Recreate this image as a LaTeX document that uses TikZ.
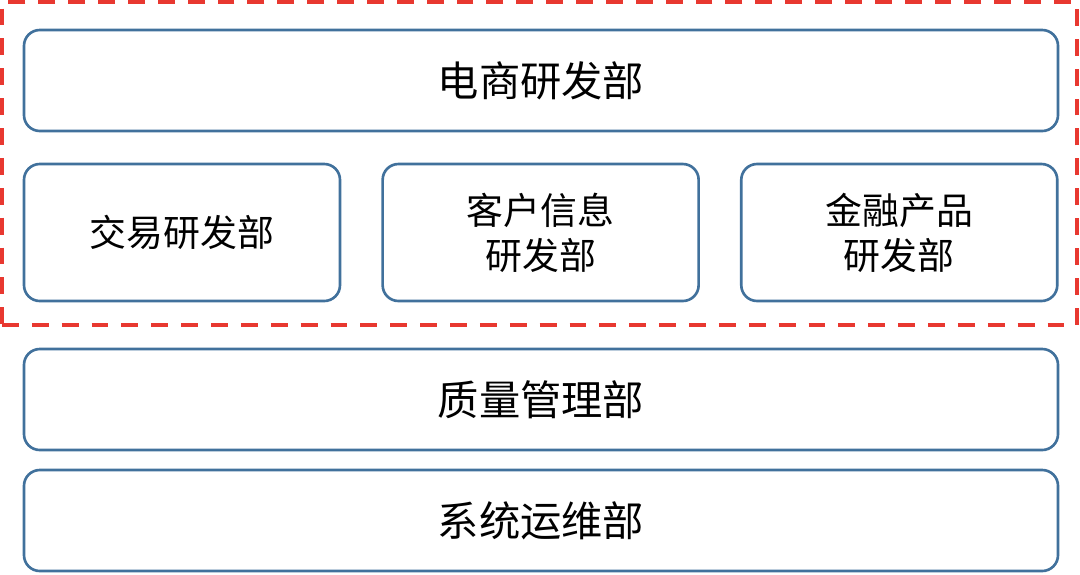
\documentclass[tikz,border=0pt]{standalone}
\usepackage{fontspec}
\setmainfont{Noto Sans CJK SC}
\usepackage{xcolor}
\definecolor{deptblue}{RGB}{65,113,156}
\definecolor{groupred}{RGB}{232,56,48}
\usepackage{tikz}
\usetikzlibrary{positioning}
\tikzset{
    deptbox/.style  = {rectangle, draw=deptblue, fill=white, line width=1.5pt,
                       rounded corners=9pt, align=center, inner sep=0pt},
    widebox/.style  = {deptbox, minimum width=20.68cm, minimum height=2.02cm,
                       font=\fontsize{23.5}{28}\selectfont},
    teambox/.style  = {deptbox, minimum width=6.32cm, minimum height=2.74cm,
                       font=\fontsize{21}{25.6}\selectfont},
    groupframe/.style = {rectangle, draw=groupred, line width=2.8pt,
                       dash pattern=on 9.6pt off 7.4pt, minimum width=21.5cm,
                       minimum height=6.46cm, inner sep=0pt}
}
\begin{document}
\begin{tikzpicture}[node distance = 0.80cm]

\useasboundingbox (0,0) rectangle (21.6,-11.48);

% --- R&D group frame ---
\node[groupframe] (rdgroup) at (10.79,-3.27) {};

% --- E-commerce R&D ---
\node[widebox] (ecom) at (10.82,-1.61) {电商研发部};

% --- Three R&D teams ---
\node[teambox] (trade)   at (3.64,-4.65)    {交易研发部};
\node[teambox, right=of trade]   (client)  {客户信息\\研发部};
\node[teambox, right=of client]  (finance) {金融产品\\研发部};

% --- Quality and operations ---
\node[widebox] (quality) at (10.82,-7.99)  {质量管理部};
\node[widebox] (sysops)  at (10.82,-10.41) {系统运维部};

\end{tikzpicture}
\end{document}
